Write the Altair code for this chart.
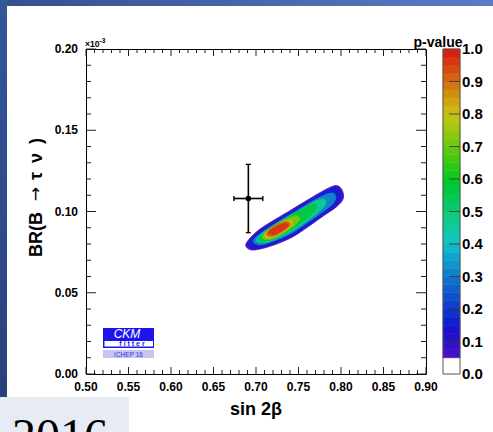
import altair as alt
import pandas as pd

# ---------------- data ----------------
point_x = [0.691]
point_y = [0.108]
point_xerr = [0.017]
point_yerr = [0.021]

x_major = [0.50, 0.55, 0.60, 0.65, 0.70, 0.75, 0.80, 0.85, 0.90]
y_major = [0.00, 0.05, 0.10, 0.15, 0.20]
x_minor = [round(0.50 + 0.01 * i, 2) for i in range(41) if i % 5]
y_minor = [round(0.01 * i, 2) for i in range(21) if i % 5]

levels = [0.05, 0.15, 0.30, 0.45, 0.55, 0.70, 0.80, 0.90, 0.95]
contour_x = [
    [0.6882, 0.6941, 0.7086, 0.7263, 0.7439, 0.7616, 0.7792, 0.7949, 0.8027, 0.8007, 0.7929, 0.7773, 0.7576, 0.7380, 0.7184, 0.7008],
    [0.6918, 0.6969, 0.7106, 0.7282, 0.7451, 0.7623, 0.7792, 0.7929, 0.7992, 0.7976, 0.7917, 0.7764, 0.7576, 0.7380, 0.7192, 0.7027],
    [0.6969, 0.7047, 0.7224, 0.7419, 0.7596, 0.7753, 0.7890, 0.7937, 0.7909, 0.7811, 0.7655, 0.7459, 0.7263, 0.7086, 0.6996],
    [0.7008, 0.7106, 0.7282, 0.7459, 0.7616, 0.7753, 0.7819, 0.7804, 0.7713, 0.7557, 0.7380, 0.7204, 0.7067],
    [0.7035, 0.7126, 0.7302, 0.7478, 0.7635, 0.7713, 0.7686, 0.7576, 0.7419, 0.7243, 0.7098],
    [0.7075, 0.7165, 0.7321, 0.7459, 0.7517, 0.7459, 0.7341, 0.7204, 0.7098],
    [0.7098, 0.7184, 0.7321, 0.7419, 0.7412, 0.7321, 0.7204, 0.7114],
    [0.7126, 0.7204, 0.7321, 0.7400, 0.7361, 0.7263, 0.7165],
    [0.7145, 0.7224, 0.7321, 0.7380, 0.7341, 0.7255, 0.7177],
]
contour_y = [
    [0.0800, 0.0764, 0.0774, 0.0804, 0.0846, 0.0907, 0.0973, 0.1030, 0.1081, 0.1137, 0.1159, 0.1122, 0.1061, 0.0999, 0.0938, 0.0876],
    [0.0800, 0.0778, 0.0788, 0.0817, 0.0860, 0.0919, 0.0983, 0.1038, 0.1085, 0.1128, 0.1145, 0.1108, 0.1046, 0.0985, 0.0928, 0.0866],
    [0.0813, 0.0794, 0.0821, 0.0866, 0.0928, 0.0985, 0.1040, 0.1081, 0.1112, 0.1102, 0.1061, 0.0999, 0.0938, 0.0876, 0.0841],
    [0.0819, 0.0809, 0.0841, 0.0891, 0.0948, 0.1005, 0.1046, 0.1075, 0.1067, 0.1020, 0.0969, 0.0911, 0.0866],
    [0.0825, 0.0819, 0.0856, 0.0911, 0.0973, 0.1020, 0.1046, 0.1020, 0.0979, 0.0923, 0.0870],
    [0.0835, 0.0829, 0.0866, 0.0917, 0.0958, 0.0973, 0.0948, 0.0907, 0.0866],
    [0.0846, 0.0839, 0.0876, 0.0917, 0.0948, 0.0938, 0.0903, 0.0870],
    [0.0856, 0.0850, 0.0882, 0.0917, 0.0938, 0.0921, 0.0891],
    [0.0866, 0.0860, 0.0887, 0.0913, 0.0928, 0.0911, 0.0887],
]

cbar_edges = [0.0, 0.05] + [round(0.05 + 0.025 * i, 3) for i in range(1, 39)]
cbar_labels = [0.0, 0.1, 0.2, 0.3, 0.4, 0.5, 0.6, 0.7, 0.8, 0.9, 1.0]

# ---------------- styles ----------------
band_colors = ["#ffffff",
    "#4410c4", "#3610c6", "#2810ca", "#1a12cc", "#1020cc", "#1030cc", "#1040cc", "#1050cc",
    "#1060cc", "#1070cc", "#1082cc", "#1094cc", "#10a6cc", "#10b8c8", "#10c6bc", "#10c8a8",
    "#10c894", "#10c880", "#08c86c", "#04c858", "#00c844", "#00c830", "#14c820", "#2cc818",
    "#44c814", "#5cc810", "#74c810", "#8cc810", "#a4c810", "#bcc410", "#ccb810", "#d0a410",
    "#d08e10", "#d27810", "#d46210", "#d64c10", "#d83610", "#d82010"]
level_colors = ["#4410c4", "#1020cc", "#1082cc", "#10c894", "#00c844",
                "#74c810", "#ccb810", "#d46210", "#d83610"]

FONT = "Liberation Sans"
W, H = 340, 325
xs = alt.Scale(domain=[0.5, 0.9], nice=False, zero=False)
ys = alt.Scale(domain=[0.0, 0.2], nice=False, zero=False)
cs = alt.Scale(domain=[0.0, 1.0], nice=False, zero=False)
one = pd.DataFrame({"a": [0]})


def X(f):
    return alt.X(f, scale=xs, axis=None)


def Y(f):
    return alt.Y(f, scale=ys, axis=None)


def prect(x0, x1, y0, y1, **kw):
    return alt.Chart(one).mark_rect(**kw).encode(
        x=alt.value(x0), x2=alt.value(x1), y=alt.value(y0), y2=alt.value(y1))


def ptext(txt, x, y, **kw):
    return alt.Chart(one).mark_text(text=txt, **kw).encode(x=alt.value(x), y=alt.value(y))


# ---------------- axes (labels, titles, inward ticks) ----------------
xlab = alt.Chart(pd.DataFrame({"v": x_major})).mark_text(
    font=FONT, fontSize=12, fontWeight="bold", color="black", align="center",
    baseline="alphabetic").encode(x=X("v:Q"), y=alt.value(H + 17),
                                  text=alt.Text("v:Q", format=".2f"))
ylab = alt.Chart(pd.DataFrame({"v": y_major})).mark_text(
    font=FONT, fontSize=12, fontWeight="bold", color="black", align="right",
    baseline="middle").encode(y=Y("v:Q"), x=alt.value(-8),
                              text=alt.Text("v:Q", format=".2f"))
xtitle = ptext("sin 2β", 170, H + 41, font=FONT, fontSize=18, fontWeight="bold",
               color="black", align="center", baseline="alphabetic")
ytitle = [
    ptext("BR(B", -44, 208, font=FONT, fontSize=18, fontWeight="bold", color="black",
          align="left", baseline="alphabetic", angle=270),
    ptext("\u2192", -45, 145, font="DejaVu Sans", fontSize=17, color="black",
          align="center", baseline="alphabetic", angle=270),
    ptext("\u03c4\u2002\u03bd\u2002)", -44, 131, font=FONT, fontSize=18, fontWeight="bold",
          color="black", align="left", baseline="alphabetic", angle=270),
]


def xticks(vals, y0, y1):
    return alt.Chart(pd.DataFrame({"v": vals})).mark_rule(color="#222", strokeWidth=1).encode(
        x=X("v:Q"), y=alt.value(y0), y2=alt.value(y1))


def yticks(vals, x0, x1):
    return alt.Chart(pd.DataFrame({"v": vals})).mark_rule(color="#222", strokeWidth=1).encode(
        y=Y("v:Q"), x=alt.value(x0), x2=alt.value(x1))


tick_layers = [
    xticks(x_major, H, H - 7), xticks(x_minor, H, H - 4),
    xticks(x_major, 0, 7), xticks(x_minor, 0, 4),
    yticks(y_major, 0, 10), yticks(y_minor, 0, 5),
    yticks(y_major, W, W - 10), yticks(y_minor, W, W - 5),
]

# ---------------- p-value contours ----------------
contour_layers = []
for lev, cx, cy, col in zip(levels, contour_x, contour_y, level_colors):
    df = pd.DataFrame({"x": cx, "y": cy, "i": list(range(len(cx))), "p": lev})
    contour_layers.append(
        alt.Chart(df).mark_line(interpolate="cardinal-closed", fill=col, stroke=col,
                                strokeWidth=0.8).encode(
            x=X("x:Q"), y=Y("y:Q"), order="i:Q"))

# ---------------- measurement ----------------
pt = pd.DataFrame({"x": point_x, "y": point_y,
                   "xl": [a - b for a, b in zip(point_x, point_xerr)],
                   "xh": [a + b for a, b in zip(point_x, point_xerr)],
                   "yl": [a - b for a, b in zip(point_y, point_yerr)],
                   "yh": [a + b for a, b in zip(point_y, point_yerr)]})
pbase = alt.Chart(pt)
err_h = pbase.mark_rule(color="black", strokeWidth=1.6).encode(
    x=X("xl:Q"), x2="xh:Q", y=Y("y:Q"))
err_v = pbase.mark_rule(color="black", strokeWidth=1.6).encode(
    y=Y("yl:Q"), y2="yh:Q", x=X("x:Q"))
caps = []
for xf, yf, orient in [("xl", "y", "vertical"), ("xh", "y", "vertical"),
                       ("x", "yl", "horizontal"), ("x", "yh", "horizontal")]:
    caps.append(pbase.mark_tick(color="black", size=5, thickness=1.4, orient=orient,
                                opacity=1).encode(x=X(f"{xf}:Q"), y=Y(f"{yf}:Q")))
dot = pbase.mark_point(filled=True, color="black", size=32, opacity=1).encode(
    x=X("x:Q"), y=Y("y:Q"))

# exponent label
exp_a = ptext("×10", -1, -2.5, font=FONT, fontSize=8.5, fontWeight="bold",
              align="left", baseline="alphabetic", color="black")
exp_b = ptext("-3", 13.5, -6, font=FONT, fontSize=6.5, fontWeight="bold",
              align="left", baseline="alphabetic", color="black")

# CKMfitter logo
logo = [
    prect(17, 68, 279, 299, color="#1e14f0"),
    prect(18.5, 67, 292, 297.5, color="#ffffff"),
    ptext("CKM", 41, 288.5, font=FONT, fontSize=12, fontStyle="italic", color="white",
          align="center", baseline="alphabetic"),
    ptext("f i t t e r", 46, 297, font=FONT, fontSize=7, fontWeight="bold", color="#1e14f0",
          align="center", baseline="alphabetic"),
    prect(17, 68, 301, 309, color="#c6c6f4"),
    ptext("ICHEP 16", 42.5, 307.5, font=FONT, fontSize=6.5, color="#3a30e0",
          align="center", baseline="alphabetic"),
]

# slide decorations
decor = [
    prect(-86, 407, -49, -43, fill={"gradient": "linear", "stops": [
        {"offset": 0, "color": "#33508f"}, {"offset": 1, "color": "#5b7bc6"}]}),
    prect(-86, -79, -49, 348, fill={"gradient": "linear", "x1": 0, "y1": 0, "x2": 0, "y2": 1,
                                    "stops": [{"offset": 0, "color": "#36569a"},
                                              {"offset": 1, "color": "#27417c"}]}),
    prect(-86, 43, 348, 383, color="#e7ebf3"),
    ptext("2016", -74, 403, font="Liberation Serif", fontSize=48, color="black",
          align="left", baseline="alphabetic"),
]

main = alt.layer(*contour_layers, *tick_layers, err_h, err_v, *caps, dot,
                 xlab, ylab, xtitle, *ytitle, exp_a, exp_b, *logo, *decor)

# ---------------- colour bar ----------------
cbar_df = pd.DataFrame({"lo": cbar_edges[:-1], "hi": cbar_edges[1:], "c": band_colors})
cbar = alt.Chart(cbar_df).mark_rect(strokeWidth=0.6).encode(
    x=alt.value(357), x2=alt.value(374),
    y=alt.Y("lo:Q", scale=cs, axis=None), y2="hi:Q",
    color=alt.Color("c:N", scale=None),
    stroke=alt.Stroke("c:N", scale=None))
cbar_frame = alt.Chart(pd.DataFrame({"lo": [0.0], "hi": [1.0]})).mark_rect(
    fill=None, stroke="#555", strokeWidth=1).encode(
    x=alt.value(357), x2=alt.value(374),
    y=alt.Y("lo:Q", scale=cs, axis=None), y2="hi:Q")
cbar_ticks = alt.Chart(pd.DataFrame({"v": cbar_labels[1:-1]})).mark_rule(
    color="#333", strokeWidth=1, opacity=0.8).encode(
    y=alt.Y("v:Q", scale=cs, axis=None), x=alt.value(363), x2=alt.value(374))
cbar_lab = alt.Chart(pd.DataFrame({"v": cbar_labels})).mark_text(
    font=FONT, fontSize=15, fontWeight="bold", color="black", align="left",
    baseline="middle").encode(y=alt.Y("v:Q", scale=cs, axis=None), x=alt.value(376),
                              text=alt.Text("v:Q", format=".1f"))
cbar_title = ptext("p-value", 352, -2.5, font=FONT, fontSize=14, fontWeight="bold",
                   color="black", align="center", baseline="alphabetic")

cbar_group = alt.layer(cbar, cbar_frame, cbar_ticks, cbar_lab, cbar_title)

chart = alt.layer(main, cbar_group).resolve_scale(y="independent").properties(
    width=W, height=H,
    autosize=alt.AutoSizeParams(type="none"),
    padding={"left": 86, "top": 49, "right": 67, "bottom": 58},
    background="white",
).configure_view(stroke="black", strokeWidth=1)

chart.save("out.html", embed_options={"renderer": "svg", "actions": False})
